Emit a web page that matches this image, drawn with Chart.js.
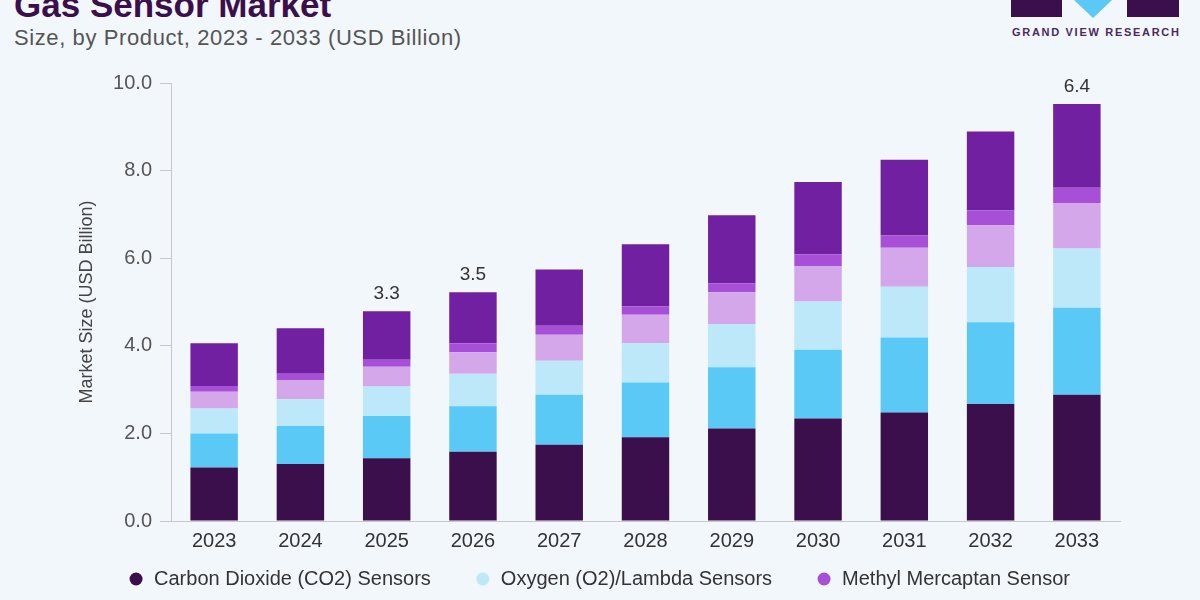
<!DOCTYPE html>
<html>
<head>
<meta charset="utf-8">
<script src="https://cdn.jsdelivr.net/npm/chart.js@4"></script>
<style>
  html, body { margin: 0; padding: 0; }
  body {
    width: 1200px;
    height: 600px;
    overflow: hidden;
    background: #f2f7fb;
    font-family: "Liberation Sans", Arial, sans-serif;
    position: relative;
  }
  #title {
    position: absolute;
    left: 14px;
    top: -13px;
    font-size: 35px;
    line-height: 35px;
    font-weight: bold;
    color: #3b0f4c;
  }
  #subtitle {
    position: absolute;
    left: 14px;
    top: 26px;
    font-size: 22px;
    line-height: 24px;
    letter-spacing: 0.6px;
    color: #555;
  }
  .logoBox {
    position: absolute;
    top: 0;
    height: 17px;
    background: #3b0f4c;
  }
  #logoV {
    position: absolute;
    top: 0;
    left: 1074px;
    width: 0;
    height: 0;
    border-left: 19px solid transparent;
    border-right: 19px solid transparent;
    border-top: 18px solid #5bc8f5;
  }
  #logoText {
    position: absolute;
    left: 1012px;
    top: 26px;
    font-size: 11px;
    font-weight: bold;
    letter-spacing: 1.7px;
    color: #4b2a60;
  }
  #wrap {
    position: absolute;
    left: 0;
    top: 0;
    width: 1200px;
    height: 600px;
  }
</style>
</head>
<body>
<div id="title">Gas Sensor Market</div>
<div id="subtitle">Size, by Product, 2023 - 2033 (USD Billion)</div>
<div class="logoBox" style="left:1011px;width:51px;"></div>
<div id="logoV"></div>
<div class="logoBox" style="left:1127px;width:52px;"></div>
<div id="logoText">GRAND VIEW RESEARCH</div>
<div id="wrap"><canvas id="chart"></canvas></div>

<script>
const years = ["2023", "2024", "2025", "2026", "2027", "2028", "2029", "2030", "2031", "2032", "2033"];

const co2 = [1.22, 1.30, 1.43, 1.58, 1.74, 1.91, 2.11, 2.34, 2.48, 2.67, 2.88];
const nox = [0.78, 0.87, 0.97, 1.04, 1.14, 1.25, 1.40, 1.57, 1.71, 1.87, 1.99];
const oxygen = [0.57, 0.61, 0.67, 0.74, 0.78, 0.90, 0.99, 1.10, 1.16, 1.26, 1.35];
const carbonMonoxide = [0.38, 0.44, 0.45, 0.49, 0.59, 0.65, 0.72, 0.81, 0.89, 0.95, 1.04];
const methyl = [0.13, 0.14, 0.16, 0.21, 0.21, 0.19, 0.21, 0.27, 0.28, 0.34, 0.35];
const others = [0.98, 1.04, 1.11, 1.16, 1.28, 1.42, 1.55, 1.65, 1.73, 1.80, 1.91];

const topLabels = ["", "", "3.3", "3.5", "", "", "", "", "", "", "6.4"];

const yTicks = [0, 2, 4, 6, 8, 10];

// only the first legend row is visible in the picture
const legendShown = [0, 2, 4];

const fontFamily = "'Liberation Sans', Arial, sans-serif";

const topLabelPlugin = {
  id: "topLabels",
  afterDatasetsDraw(chart) {
    const ctx = chart.ctx;
    const last = chart.getDatasetMeta(chart.data.datasets.length - 1);
    ctx.save();
    ctx.font = "19px " + fontFamily;
    ctx.fillStyle = "#333";
    ctx.textAlign = "center";
    ctx.textBaseline = "bottom";
    last.data.forEach((bar, i) => {
      if (topLabels[i]) {
        ctx.fillText(topLabels[i], bar.x, bar.y - 8);
      }
    });
    ctx.restore();
  }
};

// one centred legend row, drawn from the dataset labels and colours
const rowLegendPlugin = {
  id: "rowLegend",
  afterDraw(chart) {
    const ctx = chart.ctx;
    const gap = 46;
    const y = 579;
    ctx.save();
    ctx.font = "20px " + fontFamily;
    ctx.textBaseline = "middle";
    ctx.textAlign = "left";
    const items = legendShown.map(i => chart.data.datasets[i]);
    const widths = items.map(d => 24 + ctx.measureText(d.label).width);
    const total = widths.reduce((a, b) => a + b, 0) + gap * (items.length - 1);
    let x = chart.width / 2 - total / 2;
    items.forEach((d, k) => {
      ctx.fillStyle = d.backgroundColor;
      ctx.beginPath();
      ctx.arc(x + 6, y, 6.5, 0, Math.PI * 2);
      ctx.fill();
      ctx.fillStyle = "#333";
      ctx.fillText(d.label, x + 24, y);
      x += widths[k] + gap;
    });
    ctx.restore();
  }
};

const ctx = document.getElementById("chart");

let chart = new Chart(ctx, {
  type: "bar",
  data: {
    labels: years,
    datasets: [
      { label: "Carbon Dioxide (CO2) Sensors", data: co2, backgroundColor: "#3a0f4b" },
      { label: "Nitrogen Oxide (NOx) Sensors", data: nox, backgroundColor: "#5bc9f5" },
      { label: "Oxygen (O2)/Lambda Sensors", data: oxygen, backgroundColor: "#bde8f9" },
      { label: "Carbon Monoxide (CO) Sensors", data: carbonMonoxide, backgroundColor: "#d4a6ea" },
      { label: "Methyl Mercaptan Sensor", data: methyl, backgroundColor: "#a84fd8" },
      { label: "Others", data: others, backgroundColor: "#7020a0" }
    ]
  },
  options: {
    responsive: true,
    maintainAspectRatio: false,
    animation: false,
    datasets: {
      bar: {
        borderWidth: 0,
        categoryPercentage: 1,
        barPercentage: 0.55
      }
    },
    layout: {
      padding: { top: 83, left: 76, right: 80, bottom: 39 }
    },
    plugins: {
      tooltip: { enabled: false },
      legend: { display: false }
    },
    scales: {
      x: {
        stacked: true,
        grid: { display: false, drawTicks: false },
        border: { display: true, color: "#c8c8c8" },
        ticks: {
          color: "#333",
          padding: 8,
          font: { family: fontFamily, size: 20 }
        }
      },
      y: {
        stacked: true,
        min: 0,
        max: 10,
        afterFit: axis => { axis.width = 95; },
        afterBuildTicks: axis => {
          axis.ticks = yTicks.map(v => ({ value: v }));
        },
        grid: {
          drawOnChartArea: false,
          drawTicks: true,
          tickLength: 11,
          color: "#c8c8c8"
        },
        border: { display: true, color: "#c8c8c8" },
        ticks: {
          color: "#555",
          padding: 8,
          font: { family: fontFamily, size: 20 },
          callback: v => v.toFixed(1)
        },
        title: {
          display: true,
          text: "Market Size (USD Billion)",
          color: "#444",
          font: { family: fontFamily, size: 18 },
          padding: { top: 0, bottom: 0 }
        }
      }
    }
  },
  plugins: [topLabelPlugin, rowLegendPlugin]
});
</script>
</body>
</html>
